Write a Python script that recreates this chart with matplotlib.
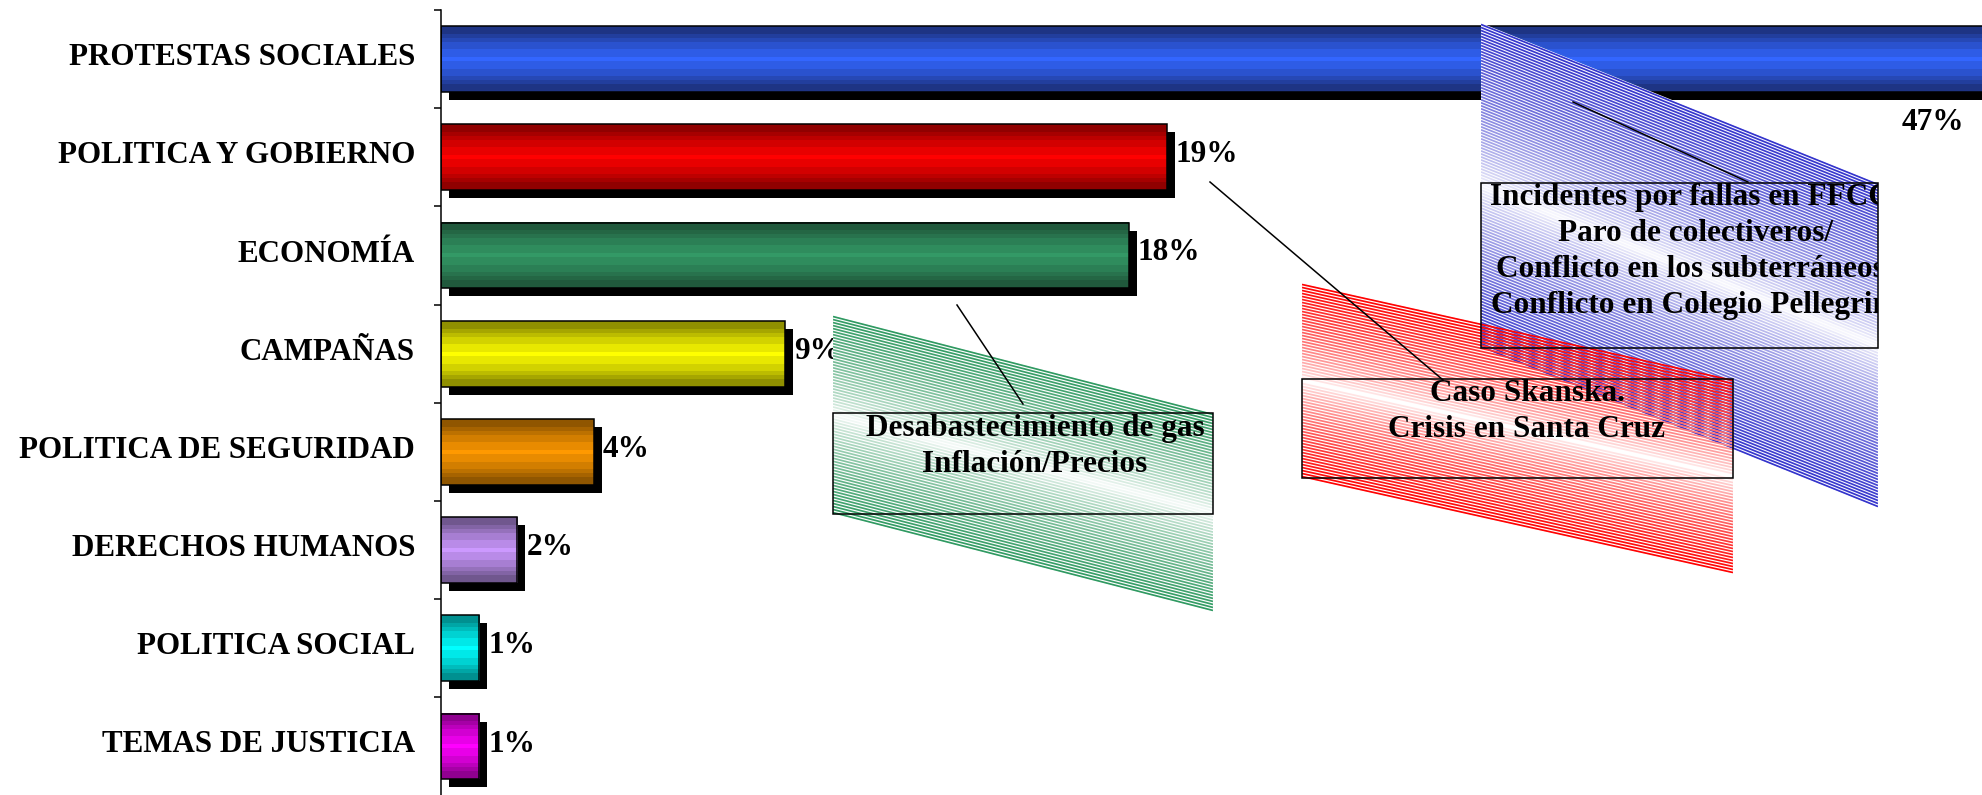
import numpy as np
import matplotlib
matplotlib.use("Agg")
import matplotlib.pyplot as plt
import matplotlib.patches as patches
import matplotlib.transforms as mtransforms
from matplotlib.collections import LineCollection
from matplotlib.colors import to_rgb

# data
categories = ["PROTESTAS SOCIALES", "POLITICA Y GOBIERNO", "ECONOMÍA", "CAMPAÑAS",
              "POLITICA DE SEGURIDAD", "DERECHOS HUMANOS", "POLITICA SOCIAL",
              "TEMAS DE JUSTICIA"]
values = [47, 19, 18, 9, 4, 2, 1, 1]
value_labels = ["47%", "19%", "18%", "9%", "4%", "2%", "1%", "1%"]

bright = ["#3366ff", "#ff0000", "#339966", "#ffff00", "#ff9900", "#cc99ff", "#00ffff", "#ff00ff"]
dark = ["#1a2a6c", "#7a0000", "#1d4d34", "#7a7a00", "#7a4900", "#5e4a78", "#007a7a", "#7a007a"]

# callout notes
notes_blue = ["Incidentes por fallas en FFCC/", "Paro de colectiveros/",
              "Conflicto en los subterráneos/", "Conflicto en Colegio Pellegrini"]
notes_red = ["Caso Skanska.", "Crisis en Santa Cruz"]
notes_green = ["Desabastecimiento de gas", "Inflación/Precios"]

W, H = 1982, 795
plt.rcParams['font.family'] = ['Liberation Serif', 'DejaVu Serif']
plt.rcParams['font.weight'] = 'bold'

fig = plt.figure(figsize=(W / 100, H / 100), dpi=100)
ax = fig.add_axes([441 / W, (H - 795.6) / H, 1 - 441 / W, 785.6 / H])

y = np.arange(len(categories))
bar_h = 0.67

# shadow
shadow_tr = ax.transData + mtransforms.ScaledTranslation(8 / 100, -8 / 100, fig.dpi_scale_trans)
ax.barh(y, values, height=bar_h, color='black', transform=shadow_tr, zorder=1)

# banded gradient fill
def grad_img(c_dark, c_bright, n=17):
    s = (np.arange(n) + 0.5) / n
    f = 1 - np.abs(2 * s - 1)
    f = np.round(f ** 0.8 * 6) / 6
    d, b = np.array(to_rgb(c_dark)), np.array(to_rgb(c_bright))
    col = d[None, :] * (1 - f[:, None]) + b[None, :] * f[:, None]
    return col[:, None, :]

for i, v in enumerate(values):
    ax.imshow(grad_img(dark[i], bright[i]), extent=(0, v, i + bar_h / 2, i - bar_h / 2),
              aspect='auto', interpolation='nearest', zorder=2)
ax.barh(y, values, height=bar_h, fill=False, edgecolor='black', linewidth=1.1, zorder=3)

for i, v in enumerate(values):
    if i == 0:
        ax.text(39.06, 0.65, value_labels[i], fontsize=22.5, ha='center', va='center', zorder=4)
    else:
        ax.annotate(value_labels[i], xy=(v, i), xytext=(6.5, -3.6), textcoords='offset points',
                    fontsize=22.5, ha='left', va='baseline', zorder=4)

ax.set_xlim(0, 1541 / 38.2)
ax.set_ylim(len(categories) - 0.5, -0.5)
ax.set_xticks([])
ax.set_yticks(y)
ax.set_yticklabels(categories, fontsize=22.3, fontweight='bold')
ax.set_yticks(np.arange(-0.5, len(categories), 1), minor=True)
ax.tick_params(axis='y', which='major', length=0, pad=18.7)
ax.tick_params(axis='y', which='minor', length=5, width=1.1, direction='out')
up = mtransforms.ScaledTranslation(0, 5 / 100, fig.dpi_scale_trans)
for lbl in ax.get_yticklabels():
    lbl.set_transform(lbl.get_transform() + up)
for sp in ['top', 'right', 'bottom']:
    ax.spines[sp].set_visible(False)
ax.spines['left'].set_linewidth(1.1)

# overlay for callouts, in pixel coords
ax2 = fig.add_axes([0, 0, 1, 1], zorder=5)
ax2.set_xlim(0, W)
ax2.set_ylim(H, 0)
ax2.axis('off')


def callout(box, color, lines, cx, base0, step, leader):
    x0, y0, w, h = box
    band = 1.97 * h
    ty = y0 - 0.97 * h
    poly = patches.Polygon([(x0, ty), (x0 + w, y0), (x0 + w, y0 + band), (x0, ty + band)],
                           closed=True, facecolor='white', edgecolor='none', zorder=1)
    ax2.add_patch(poly)
    n = int(band / 3)
    c = np.array(to_rgb(color))
    segs, cols = [], []
    for k in range(n):
        s = (k + 0.5) / n
        f = abs(2 * s - 1) ** 0.65
        off = ty + s * band
        segs.append([(x0, off), (x0 + w, off + 0.97 * h)])
        cols.append(tuple(np.ones(3) * (1 - f) + c * f))
    lc = LineCollection(segs, colors=cols, linewidths=1.25, zorder=2)
    lc.set_clip_path(poly)
    ax2.add_collection(lc)
    rect = patches.Rectangle((x0, y0), w, h, fill=False, edgecolor='black', linewidth=1.1, zorder=3)
    ax2.add_patch(rect)
    ax2.plot([leader[0], leader[2]], [leader[1], leader[3]], color='black', lw=1.1, zorder=4)
    for j, t in enumerate(lines):
        txt = ax2.text(cx, base0 + j * step, t, fontsize=22.5, ha='center', va='baseline',
                       zorder=5, clip_on=True)
        txt.set_clip_path(rect)


callout((1481, 183, 397, 165), "#3333cc", notes_blue, 1695, 205, 36, (1573, 102, 1748, 182))
callout((1302, 379, 431, 99), "#ff0000", notes_red, 1527, 401, 36, (1210, 182, 1443, 380))
callout((833, 413, 380, 101), "#2e9960", notes_green, 1035, 436, 36, (957, 305, 1023, 404))

fig.savefig("out.png", dpi=100)
